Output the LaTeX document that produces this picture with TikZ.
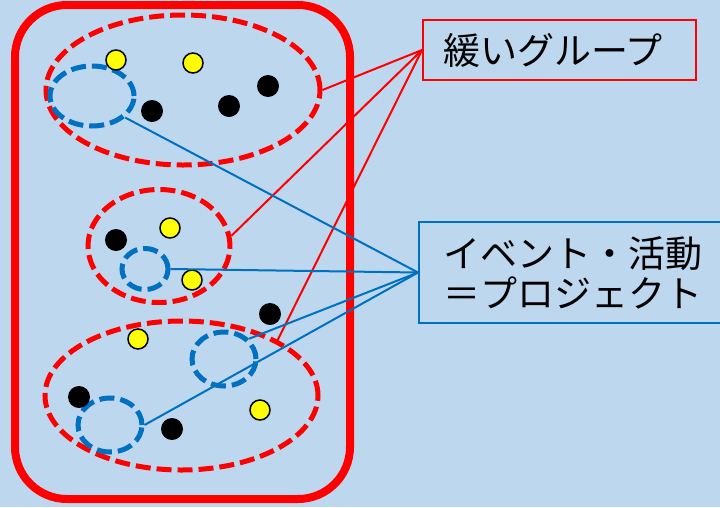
\documentclass[tikz,border=0pt]{standalone}
\usepackage{fontspec}
\newfontfamily\jpfont{Noto Sans CJK JP}
\usetikzlibrary{shapes.geometric}

\definecolor{bgblue}{RGB}{189,215,238}
\definecolor{prjblue}{RGB}{0,112,192}
\definecolor{dotyellow}{RGB}{255,255,0}

\tikzset{every picture/.style={line width=0.75pt}}
\tikzset{
  grp/.style={ellipse, draw=red, line width=5pt, dash pattern=on 15pt off 6pt, inner sep=0pt},
  prj/.style={ellipse, draw=prjblue, line width=5pt, dash pattern=on 15pt off 6pt, inner sep=0pt},
  blk/.style={circle, fill=black, inner sep=0pt, minimum size=22pt},
  ylw/.style={circle, fill=dotyellow, draw=black, line width=1.5pt, inner sep=0pt, minimum size=20pt},
  lbl/.style={anchor=west, line width=2pt, align=left, font=\jpfont\fontsize{37}{40}\selectfont},
  redlink/.style={draw=red, line width=2pt},
  bluelink/.style={draw=prjblue, line width=2pt},
}

\begin{document}
\begin{tikzpicture}[x=1pt,y=1pt,yscale=-1]
%set diagram left start at 0, and has height of 507
\fill [bgblue] (0,0) rectangle (720,507);
\useasboundingbox (0,0) rectangle (720,507);

%Rounded Rect
\draw [red, line width=8pt, rounded corners=52pt] (15,5) rectangle (350,499);

%Shape: Ellipse (groups)
\node [grp, minimum width=274pt, minimum height=150pt] (g1) at (183,90) {};
\node [grp, minimum width=142pt, minimum height=113pt] (g2) at (159,246) {};
\node [grp, minimum width=273pt, minimum height=149pt] (g3) at (181.5,395.5) {};

%Shape: Ellipse (projects)
\node [prj, minimum width=84pt, minimum height=60pt] (p1) at (92,96) {};
\node [prj, minimum width=46pt, minimum height=41pt] (p2) at (145,269) {};
\node [prj, minimum width=64pt, minimum height=54pt] (p3) at (224,359) {};
\node [prj, minimum width=64pt, minimum height=54pt] (p4) at (110,425) {};

%Dots
\node [ylw] (d1) at (116,60) {};
\node [ylw] (d2) at (193,63) {};
\node [blk] (d3) at (152,111) {};
\node [blk] (d4) at (229,106) {};
\node [blk] (d5) at (268,86) {};
\node [blk] (d6) at (116,240) {};
\node [ylw] (d7) at (170,228) {};
\node [ylw] (d8) at (192,280) {};
\node [blk] (d9) at (270,314) {};
\node [ylw] (d10) at (138,339) {};
\node [blk] (d11) at (79,397) {};
\node [blk] (d12) at (172,429) {};
\node [ylw] (d13) at (260,410) {};

% Text Node
\node [lbl, draw=red, text width=233pt, inner xsep=20pt, minimum height=60pt] (loose) at (422,50) {緩いグループ};
% Text Node
\node [lbl, draw=prjblue, text width=259pt, inner xsep=24pt, minimum height=101pt] (event) at (418,272.5) {イベント・活動\\＝プロジェクト};

%Straight Lines
\draw [redlink] (loose.west) -- (g1.east);
\draw [redlink] (loose.west) -- (g2.8);
\draw [redlink] (loose.west) -- (g3.30);
%Straight Lines
\draw [bluelink] (event.west) -- (p1.-33);
\draw [bluelink] (event.west) -- (p2.east);
\draw [bluelink] (event.west) -- (p3.39);
\draw [bluelink] (event.west) -- (p4.east);

\end{tikzpicture}
\end{document}
